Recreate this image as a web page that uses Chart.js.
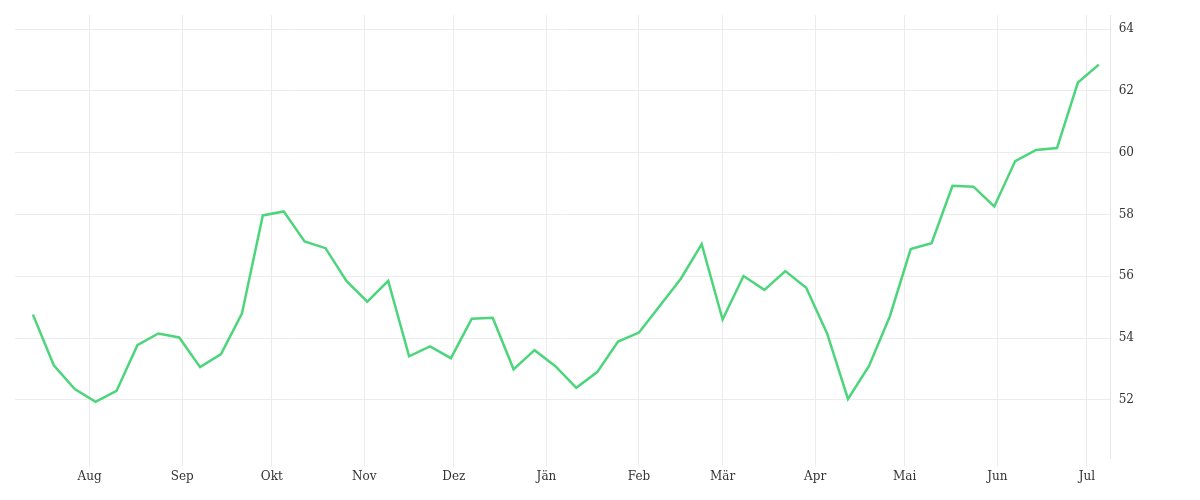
<!DOCTYPE html>
<html>
<head>
<meta charset="utf-8">
<script src="https://cdn.jsdelivr.net/npm/chart.js@4"></script>
<style>
  body { margin: 0; background: #fff; }
  #wrap { width: 1200px; height: 500px; }
</style>
</head>
<body>
<div id="wrap"><canvas id="chart"></canvas></div>
<script>
// weekly values, first point = Jul 13 (day 0)
const values = [54.76, 53.12, 52.35, 51.94, 52.29, 53.77, 54.15, 54.02, 53.06, 53.48,
    54.79, 57.97, 58.10, 57.13, 56.91, 55.85, 55.18, 55.85, 53.41, 53.73,
    53.35, 54.63, 54.66, 52.99, 53.61, 53.09, 52.39, 52.90, 53.89, 54.18,
    55.05, 55.92, 57.04, 54.60, 56.01, 55.56, 56.17, 55.63, 54.15, 52.03,
    53.09, 54.70, 56.88, 57.07, 58.93, 58.90, 58.26, 59.73, 60.09, 60.15,
    62.27, 62.85];
const monthNames = ["Aug", "Sep", "Okt", "Nov", "Dez", "Jän", "Feb", "Mär", "Apr", "Mai", "Jun", "Jul"];
const monthDays = [19, 50, 80, 111, 141, 172, 203, 231, 262, 292, 323, 353];
const yTicks = [52, 54, 56, 58, 60, 62, 64];

const points = values.map((v, i) => ({ x: i * 7, y: v }));
const font = { family: "'DejaVu Serif', 'Liberation Serif', serif", size: 12 };

new Chart(document.getElementById("chart"), {
    type: 'line',
    data: {
        datasets: [{
            data: points,
            borderColor: '#4cd57a',
            borderWidth: 2.5,
            pointRadius: 0,
            tension: 0,
            fill: false
        }]
    },
    options: {
        responsive: true,
        maintainAspectRatio: false,
        animation: false,
        layout: { padding: { left: 15, top: 9, right: 58, bottom: 13 } },
        plugins: { legend: { display: false }, tooltip: { enabled: false } },
        scales: {
            x: {
                type: 'linear',
                min: -6,
                max: 361,
                afterBuildTicks: axis => { axis.ticks = monthDays.map(d => ({ value: d })); },
                ticks: {
                    color: '#333',
                    font: font,
                    autoSkip: false,
                    maxRotation: 0,
                    callback: v => monthNames[monthDays.indexOf(v)]
                },
                grid: { color: '#ececec', drawTicks: true, tickLength: 8 },
                border: { display: false }
            },
            y: {
                position: 'right',
                min: 50.1,
                max: 64.45,
                afterBuildTicks: axis => { axis.ticks = yTicks.map(v => ({ value: v })); },
                ticks: { color: '#333', font: font, padding: 8 },
                grid: { color: '#ececec', drawTicks: false },
                border: { color: '#e6e6e6' }
            }
        }
    }
});
</script>
</body>
</html>
